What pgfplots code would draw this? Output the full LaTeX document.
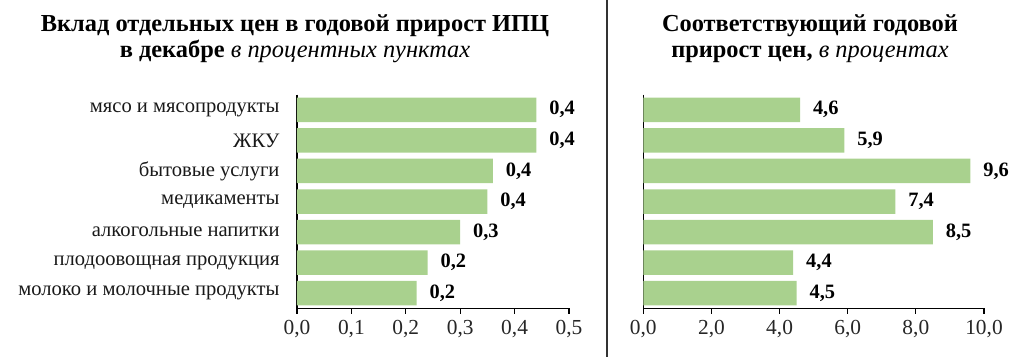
\documentclass[border=0pt]{standalone}
\usepackage{pgfplots}
\pgfplotsset{compat=1.18}
\usepackage{pgfplotstable}
\usepackage{fontspec}
\setmainfont{Liberation Serif}
\definecolor{bargreen}{RGB}{169,209,142}

\pgfplotstableread{
x y lab
0.44 0 0,4
0.44 1 0,4
0.36 2 0,4
0.35 3 0,4
0.30 4 0,3
0.24 5 0,2
0.22 6 0,2
}\lefttab

\pgfplotstableread{
x y lab
4.6 0 4,6
5.9 1 5,9
9.6 2 9,6
7.4 3 7,4
8.5 4 8,5
4.4 5 4,4
4.5 6 4,5
}\righttab

\pgfplotsset{
  panel/.style={
    scale only axis,
    xbar,
    bar width=12.25pt,
    height=107pt,
    ymin=-0.5, ymax=6.5,
    y dir=reverse,
    xmin=0,
    axis x line*=bottom,
    axis y line*=left,
    axis line style={black, line width=0.6pt},
    tick align=outside,
    major tick length=2.6pt,
    xtick style={black, line width=0.6pt},
    ytick=\empty,
    xticklabel style={font=\fontsize{10.7}{12}\selectfont, text=black!85},
    /pgf/number format/assume math mode=true,
    /pgf/number format/.cd, use comma, fixed, fixed zerofill, precision=1,
    /pgfplots/.cd,
    point meta=explicit symbolic,
    nodes near coords,
    every node near coord/.append style={anchor=west, inner sep=0pt, xshift=6.3pt,
      font=\fontsize{10.2}{12}\selectfont\bfseries, text=black},
    clip=false,
  }
}

\begin{document}
\begin{tikzpicture}
\useasboundingbox (0,0) rectangle (512pt,178.5pt);

% left panel
\begin{axis}[panel,
  at={(148.5pt,24.25pt)}, anchor=south west, width=136pt,
  xmax=0.5, xtick={0,0.1,0.2,0.3,0.4,0.5},
  extra y ticks={0,1,2,3,4,5,6},
  extra y tick labels={мясо и мясопродукты, ЖКУ, бытовые услуги, медикаменты, алкогольные напитки, плодоовощная продукция, молоко и молочные продукты},
  extra y tick style={major tick length=0pt, yticklabel style={xshift=-5.2pt, font=\fontsize{10.3}{12}\selectfont, text=black!90}},
]
\addplot[fill=bargreen, draw=none] table[x=x, y=y, meta=lab] {\lefttab};
\end{axis}

% right panel
\begin{axis}[panel,
  at={(321.65pt,24.25pt)}, anchor=south west, width=170.35pt,
  xmax=10, xtick={0,2,4,6,8,10},
]
\addplot[fill=bargreen, draw=none] table[x=x, y=y, meta=lab] {\righttab};
\end{axis}

% separator
\draw[black!80, line width=0.6pt] (303.5pt,0) -- (303.5pt,178.5pt);

% titles
\node[anchor=base, font=\fontsize{12.2}{14}\selectfont] at (147.5pt,162.7pt)
  {\textbf{Вклад отдельных цен в годовой прирост ИПЦ}};
\node[anchor=base, font=\fontsize{12.2}{14}\selectfont] at (147.5pt,149.8pt)
  {\textbf{в декабре} \textit{в процентных пунктах}};
\node[anchor=base, font=\fontsize{12.2}{14}\selectfont] at (405pt,162.7pt)
  {\textbf{Соответствующий годовой}};
\node[anchor=base, font=\fontsize{12.2}{14}\selectfont] at (405pt,149.8pt)
  {\textbf{прирост цен,} \textit{в процентах}};
\end{tikzpicture}
\end{document}
